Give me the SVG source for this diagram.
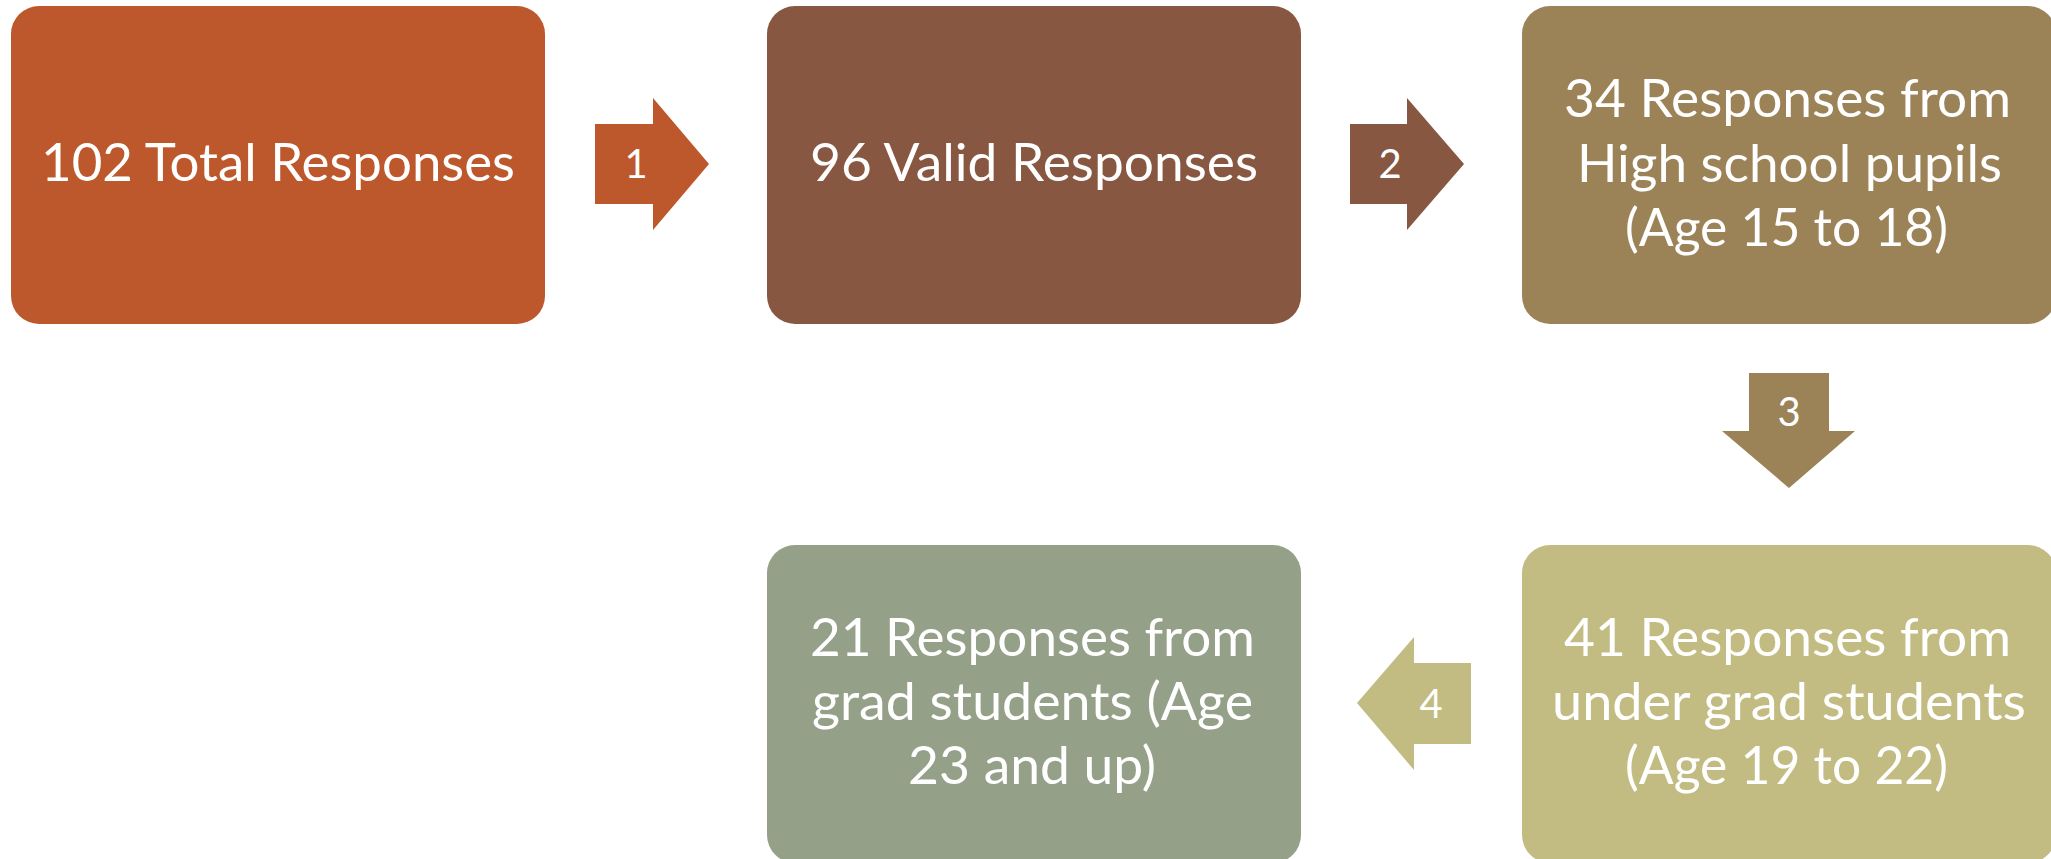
<svg xmlns="http://www.w3.org/2000/svg" width="2051" height="859" viewBox="0 0 2051 859">
<style>
.t{font-family:Lato,"Liberation Sans",sans-serif;font-size:52px;fill:#ffffff;text-anchor:middle}
.n{font-family:Lato,"Liberation Sans",sans-serif;font-size:40px;fill:#ffffff;text-anchor:middle}
</style>
<rect width="2051" height="859" fill="#ffffff"/>
<g id="connectors">
  <g id="arrow1"><polygon points="595,124 653,124 653,98 709,164 653,230 653,204 595,204" fill="#BD582D"/><text class="n" x="636" y="178">1</text></g>
  <g id="arrow2"><polygon points="1350,124 1407,124 1407,98 1464,164 1407,230 1407,204 1350,204" fill="#875741"/><text class="n" x="1390" y="178">2</text></g>
  <g id="arrow3"><polygon points="1749,373 1829,373 1829,431 1855,431 1789,488 1722,431 1749,431" fill="#9C8357"/><text class="n" x="1789" y="426">3</text></g>
  <g id="arrow4"><polygon points="1471,663 1414,663 1414,637 1357,703 1414,770 1414,744 1471,744" fill="#C3BC82"/><text class="n" x="1431" y="718">4</text></g>
</g>
<g id="node1">
  <rect x="11" y="6" width="534" height="318" rx="28" fill="#BD582D"/>
  <text class="t" x="278" y="181" textLength="474" lengthAdjust="spacingAndGlyphs">102 Total Responses</text>
</g>
<g id="node2">
  <rect x="767" y="6" width="534" height="318" rx="28" fill="#875741"/>
  <text class="t" x="1034" y="181" textLength="448" lengthAdjust="spacingAndGlyphs">96 Valid Responses</text>
</g>
<g id="node3">
  <rect x="1522" y="6" width="534" height="318" rx="28" fill="#9C8357"/>
  <text class="t" x="1787.5" y="117" textLength="447" lengthAdjust="spacingAndGlyphs">34 Responses from</text>
  <text class="t" x="1789.5" y="182" textLength="425" lengthAdjust="spacingAndGlyphs">High school pupils</text>
  <text class="t" x="1786.5" y="246" textLength="323" lengthAdjust="spacingAndGlyphs">(Age 15 to 18)</text>
</g>
<g id="node4">
  <rect x="767" y="545" width="534" height="318" rx="28" fill="#95A088"/>
  <text class="t" x="1032.5" y="656" textLength="445" lengthAdjust="spacingAndGlyphs">21 Responses from</text>
  <text class="t" x="1032.5" y="720" textLength="441" lengthAdjust="spacingAndGlyphs">grad students (Age</text>
  <text class="t" x="1032" y="784" textLength="248" lengthAdjust="spacingAndGlyphs">23 and up)</text>
</g>
<g id="node5">
  <rect x="1522" y="545" width="534" height="318" rx="28" fill="#C3BC82"/>
  <text class="t" x="1787.5" y="656" textLength="447" lengthAdjust="spacingAndGlyphs">41 Responses from</text>
  <text class="t" x="1789" y="720" textLength="474" lengthAdjust="spacingAndGlyphs">under grad students</text>
  <text class="t" x="1786.5" y="784" textLength="323" lengthAdjust="spacingAndGlyphs">(Age 19 to 22)</text>
</g>
</svg>
